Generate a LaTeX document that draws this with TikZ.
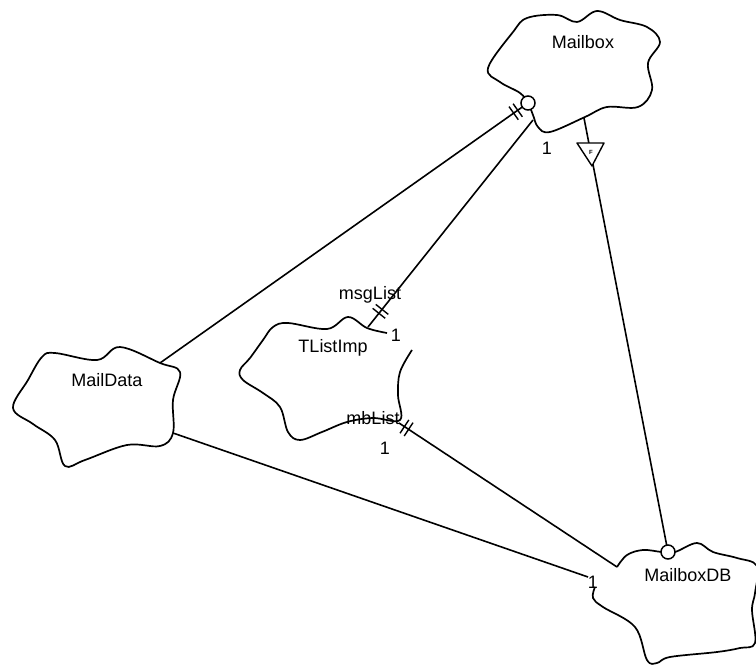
\documentclass[tikz,border=0pt]{standalone}
\usepackage{fontspec}
\setmainfont{Liberation Sans}
\usetikzlibrary{decorations.markings}

\tikzset{
  cloudline/.style={line width=1.7pt,color=bo_ink,line join=round},
  assoc/.style={line width=1.6pt,color=bo_ink},
  twobar/.style={postaction={decorate,decoration={markings,
      mark=at position #1 with {\draw[line width=1.4pt,color=bo_ink] (-2.5pt,-8pt) -- (-2.5pt,8pt) (2.5pt,-8pt) -- (2.5pt,8pt);}}}},
  lbl/.style={font=\fontsize{18}{20}\selectfont,inner sep=0pt,color=bo_ink},
}

\begin{document}
\begin{tikzpicture}[x=1pt,y=-1pt]
% ------------------------------------------------ booch ink colors
\definecolor{bo_ink}{RGB}{0,0,0}        %#000000
\definecolor{bo_paper}{RGB}{255,255,255} %#FFFFFF

\useasboundingbox (0,0) rectangle (756,666);
\clip (0,0) rectangle (756,666);

% ------------------------------------------------ class clouds
% Mailbox
\draw[cloudline] plot[smooth cycle,tension=0.6] coordinates {
  (488,68) (513,32) (527,18) (557,15) (577,22) (597,11) (620,20) (647,27)
  (660,42) (648,63) (652,90) (638,107) (607,107) (585,117) (550,132)
  (538,127) (533,115) (528,103) (520,93) (500,82)};
% MailData
\draw[cloudline] plot[smooth cycle,tension=0.6] coordinates {
  (13,408) (28,380) (42,357) (55,353) (97,360) (120,347) (160,363) (180,372)
  (173,400) (173,433) (160,446) (127,445) (85,460) (65,466) (55,440) (33,424)};
% TListImp (open where the "1" sits)
\draw[cloudline] plot[smooth,tension=0.6] coordinates {
  (412,350) (400,372) (398,395) (400,420) (373,418) (347,422) (322,432)
  (300,440) (288,432) (280,407) (263,393) (243,380) (240,370) (250,358)
  (263,340) (273,327) (288,323) (327,329) (348,317) (367,328) (387,333)};
% MailboxDB (open where the "1" sits)
\draw[cloudline] plot[smooth,tension=0.6] coordinates {
  (617,567) (627,555) (643,550) (662,552) (675,552) (697,543) (713,552)
  (737,558) (757,566) (755,593) (752,610) (755,643) (740,648) (717,652)
  (670,657) (657,663) (647,660) (635,627) (603,607) (593,598) (595,587)};

% ------------------------------------------------ class names
\node[lbl] (mailbox)   at (583,42)  {Mailbox};
\node[lbl] (maildata)  at (107,380) {MailData};
\node[lbl] (tlistimp)  at (333,348) {TListImp};
\node[lbl] (mailboxdb) at (688,575) {MailboxDB};

% ------------------------------------------------ attach points
\coordinate (mbx-circ) at (528,103);
\coordinate (mbx-tl)   at (533,120);
\coordinate (mbx-db)   at (584,118);
\coordinate (md-top)   at (160,363);
\coordinate (md-bot)   at (173,433);
\coordinate (tl-top)   at (368,327);
\coordinate (tl-bot)   at (399,423);
\coordinate (db-circ)  at (668,552);
\coordinate (db-tl)    at (617,567);
\coordinate (db-md)    at (588,577);

% ------------------------------------------------ associations
\draw[assoc,twobar=-15pt] (md-top) -- (mbx-circ);
\draw[assoc,twobar=-20pt] (mbx-tl) -- (tl-top);
\draw[assoc,twobar=9pt]   (tl-bot) -- (db-tl);
\draw[assoc] (md-bot) -- (db-md);
\draw[assoc] (mbx-db) -- (db-circ);

% ------------------------------------------------ adornments
\filldraw[line width=1.5pt,color=bo_ink,fill=bo_paper] (mbx-circ) circle (7);
\filldraw[line width=1.5pt,color=bo_ink,fill=bo_paper] (db-circ) circle (7);
\filldraw[line width=1.4pt,color=bo_ink,fill=bo_paper,line join=round] (577,143) -- (604,143) -- (592,166) -- cycle;
\node[inner sep=0pt,font=\fontsize{6}{7}\selectfont\bfseries] (fmark) at (591,152) {F};

% ------------------------------------------------ role names and cardinalities
\node[lbl] (msglist) at (370,295) {msgList};
\node[lbl] (mblist)  at (373,418) {mbList};
\node[lbl] (one-mbx) at (547,148) {1};
\node[lbl] (one-msg) at (396,335) {1};
\node[lbl] (one-mb)  at (385,448) {1};
\node[lbl] (one-db)  at (593,582) {1};

\end{tikzpicture}
\end{document}
